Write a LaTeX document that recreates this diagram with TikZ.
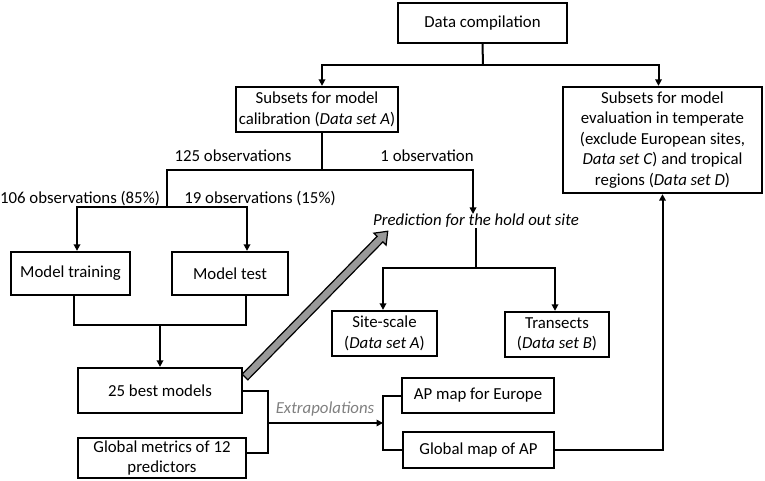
\documentclass[tikz,border=0pt]{standalone}
\usepackage{fontspec}
\setmainfont{Carlito}
\usetikzlibrary{arrows.meta}
\begin{document}
\begin{tikzpicture}[x=1pt,y=-1pt]
  \tikzset{box/.style={draw, line width=2.3pt, align=center, inner sep=0pt, font=\fontsize{16.8}{20.5}\selectfont},
    lbl/.style={inner sep=0pt, font=\fontsize{16.8}{20.5}\selectfont},
    conn/.style={line width=2pt},
    arr/.style={conn, -{Triangle[length=6.5pt,width=6.5pt]}}}
  \useasboundingbox (0,0) rectangle (765,481);
  \node[box, minimum width=169pt, minimum height=40pt] (comp) at (482.5,23) {Data compilation};
  \node[box, minimum width=162pt, minimum height=45pt] (calib) at (317,109.5) {Subsets for model\\calibration (\textit{Data set A})};
  \node[box, minimum width=199pt, minimum height=106pt] (evalb) at (662.5,140) {Subsets for model\\evaluation in temperate\\(exclude European sites,\\\textit{Data set C}) and tropical\\regions (\textit{Data set D})};
  \node[box, minimum width=119pt, minimum height=43pt] (train) at (70.5,273.5) {Model training};
  \node[box, minimum width=116pt, minimum height=43pt] (test) at (230,273.5) {Model test};
  \node[box, minimum width=164pt, minimum height=45pt] (best) at (160,390.5) {25 best models};
  \node[box, minimum width=168pt, minimum height=40pt] (metrics) at (162,458) {Global metrics of 12\\predictors};
  \node[box, minimum width=105pt, minimum height=45pt] (site) at (384.5,333.5) {Site-scale\\(\textit{Data set A})};
  \node[box, minimum width=104pt, minimum height=45pt] (trans) at (557,334.5) {Transects\\(\textit{Data set B})};
  \node[box, minimum width=152pt, minimum height=35pt] (europe) at (478,395.5) {AP map for Europe};
  \node[box, minimum width=151pt, minimum height=36pt] (globalmap) at (478.5,450) {Global map of AP};
  \node[lbl, font=\fontsize{16.8}{20.5}\selectfont\itshape] (pred) at (476,221) {Prediction for the hold out site};
  \node[lbl] (obs125) at (233,156) {125 observations};
  \node[lbl] (obs1) at (427,156) {1 observation};
  \node[lbl] (obs106) at (80,199) {106 observations (85\%)};
  \node[lbl] (obs19) at (260,199) {19 observations (15\%)};
  \node[lbl, text=black!50, font=\fontsize{16.8}{20.5}\selectfont\itshape] (extra) at (325,409) {Extrapolations};
  \coordinate (c1) at (483,65);
  \coordinate (c2) at (322,170);
  \coordinate (c3) at (167,207);
  \coordinate (c4) at (160,325);
  \coordinate (c5) at (268,423);
  \coordinate (c6) at (383,423);
  \coordinate (c7) at (476,268);
  \draw[conn] (comp.south) -- (c1);
  \draw[arr] (c1) -| ([xshift=5pt]calib.north);
  \draw[arr] (c1) -| ([xshift=-4pt]evalb.north);
  \draw[conn] ([xshift=5pt]calib.south) -- (c2);
  \draw[conn] (c2) -| (c3);
  \draw[arr] (c2) -| ([xshift=-3pt]pred.north);
  \draw[arr] (c3) -| ([xshift=6.5pt]train.north);
  \draw[arr] (c3) -| ([xshift=17pt]test.north);
  \draw[conn] ([xshift=3.5pt]train.south) |- (c4);
  \draw[conn] ([xshift=16pt]test.south) |- (c4);
  \draw[arr] (c4) -- (best.north);
  \draw[conn] (best.east) -| (c5);
  \draw[conn] ([yshift=5pt]metrics.east) -| (c5);
  \draw[arr] (c5) -- (c6);
  \draw[conn] (europe.west) -| (c6) |- (globalmap.west);
  \draw[arr] (globalmap.east) -| (evalb.south);
  \draw[conn] (pred.south) -- (c7);
  \draw[arr] (c7) -| ([xshift=-1.5pt]site.north);
  \draw[arr] (c7) -| ([xshift=-2pt]trans.north);
  \begin{scope}[shift={(245,377)}, rotate=45.6]
    \draw[line width=1.2pt, fill=black!40] (0,-4) -- (193,-4) -- (193,-8.5) -- (204,0) -- (193,8.5) -- (193,4) -- (0,4) -- cycle;
  \end{scope}
\end{tikzpicture}
\end{document}
